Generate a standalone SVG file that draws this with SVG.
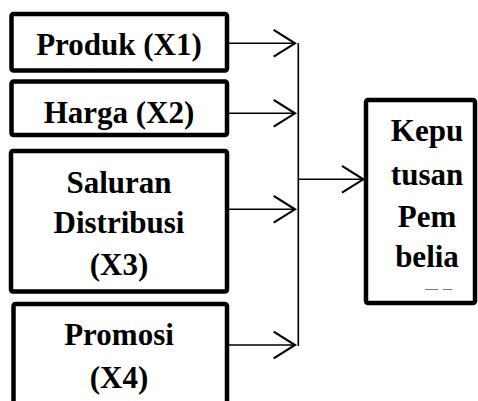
<svg xmlns="http://www.w3.org/2000/svg" width="478" height="401" viewBox="0 0 478 401">
<style>
.box{fill:#fff;stroke:#000;stroke-width:4.5}
.t{font-family:"Liberation Serif","Times New Roman",serif;font-weight:bold;font-size:31px;fill:#000;text-anchor:middle}
.c{fill:none;stroke:#000;stroke-width:1.6}
</style>
<defs>
<marker id="ah" markerUnits="userSpaceOnUse" markerWidth="40" markerHeight="40" viewBox="-20 -15 24 30" refX="0" refY="0" orient="auto">
<path d="M-16,-10 L0,0 L-16,10" fill="none" stroke="#000" stroke-width="1.6"/>
</marker>
</defs>
<rect width="478" height="401" fill="#fff"/>
<g id="x1">
<rect class="box" x="11.5" y="14" width="215.5" height="56.5" rx="2"/>
<text class="t" x="119" y="55">Produk (X1)</text>
</g>
<g id="x2">
<rect class="box" x="11.5" y="81.5" width="215.5" height="53.5" rx="2"/>
<text class="t" x="119" y="123">Harga (X2)</text>
</g>
<g id="x3">
<rect class="box" x="11" y="151" width="216" height="140.5" rx="2"/>
<text class="t" x="119" y="193">Saluran</text>
<text class="t" x="119" y="233">Distribusi</text>
<text class="t" x="119" y="275">(X3)</text>
</g>
<g id="x4">
<rect class="box" x="13.5" y="304" width="213.5" height="120" rx="2"/>
<text class="t" x="119" y="345">Promosi</text>
<text class="t" x="119" y="388">(X4)</text>
</g>
<g id="y">
<rect class="box" x="366" y="100" width="109" height="203" rx="2"/>
<text class="t" x="427" y="141">Kepu</text>
<text class="t" x="427" y="185">tusan</text>
<text class="t" x="427" y="227">Pem</text>
<text class="t" x="427" y="267">belia</text>
<path d="M425,289.5 H438 M443,289.5 H452" stroke="#555" stroke-width="0.8"/>
</g>
<g id="connectors">
<line class="c" x1="229" y1="43.3" x2="295" y2="43.3" marker-end="url(#ah)"/>
<line class="c" x1="229" y1="113.3" x2="295" y2="113.3" marker-end="url(#ah)"/>
<line class="c" x1="229" y1="209.3" x2="295" y2="209.3" marker-end="url(#ah)"/>
<line class="c" x1="229" y1="345" x2="295" y2="345" marker-end="url(#ah)"/>
<line class="c" x1="298.3" y1="43" x2="298.3" y2="346"/>
<line class="c" x1="298.3" y1="179.3" x2="363.3" y2="179.3" marker-end="url(#ah)"/>
</g>
</svg>
